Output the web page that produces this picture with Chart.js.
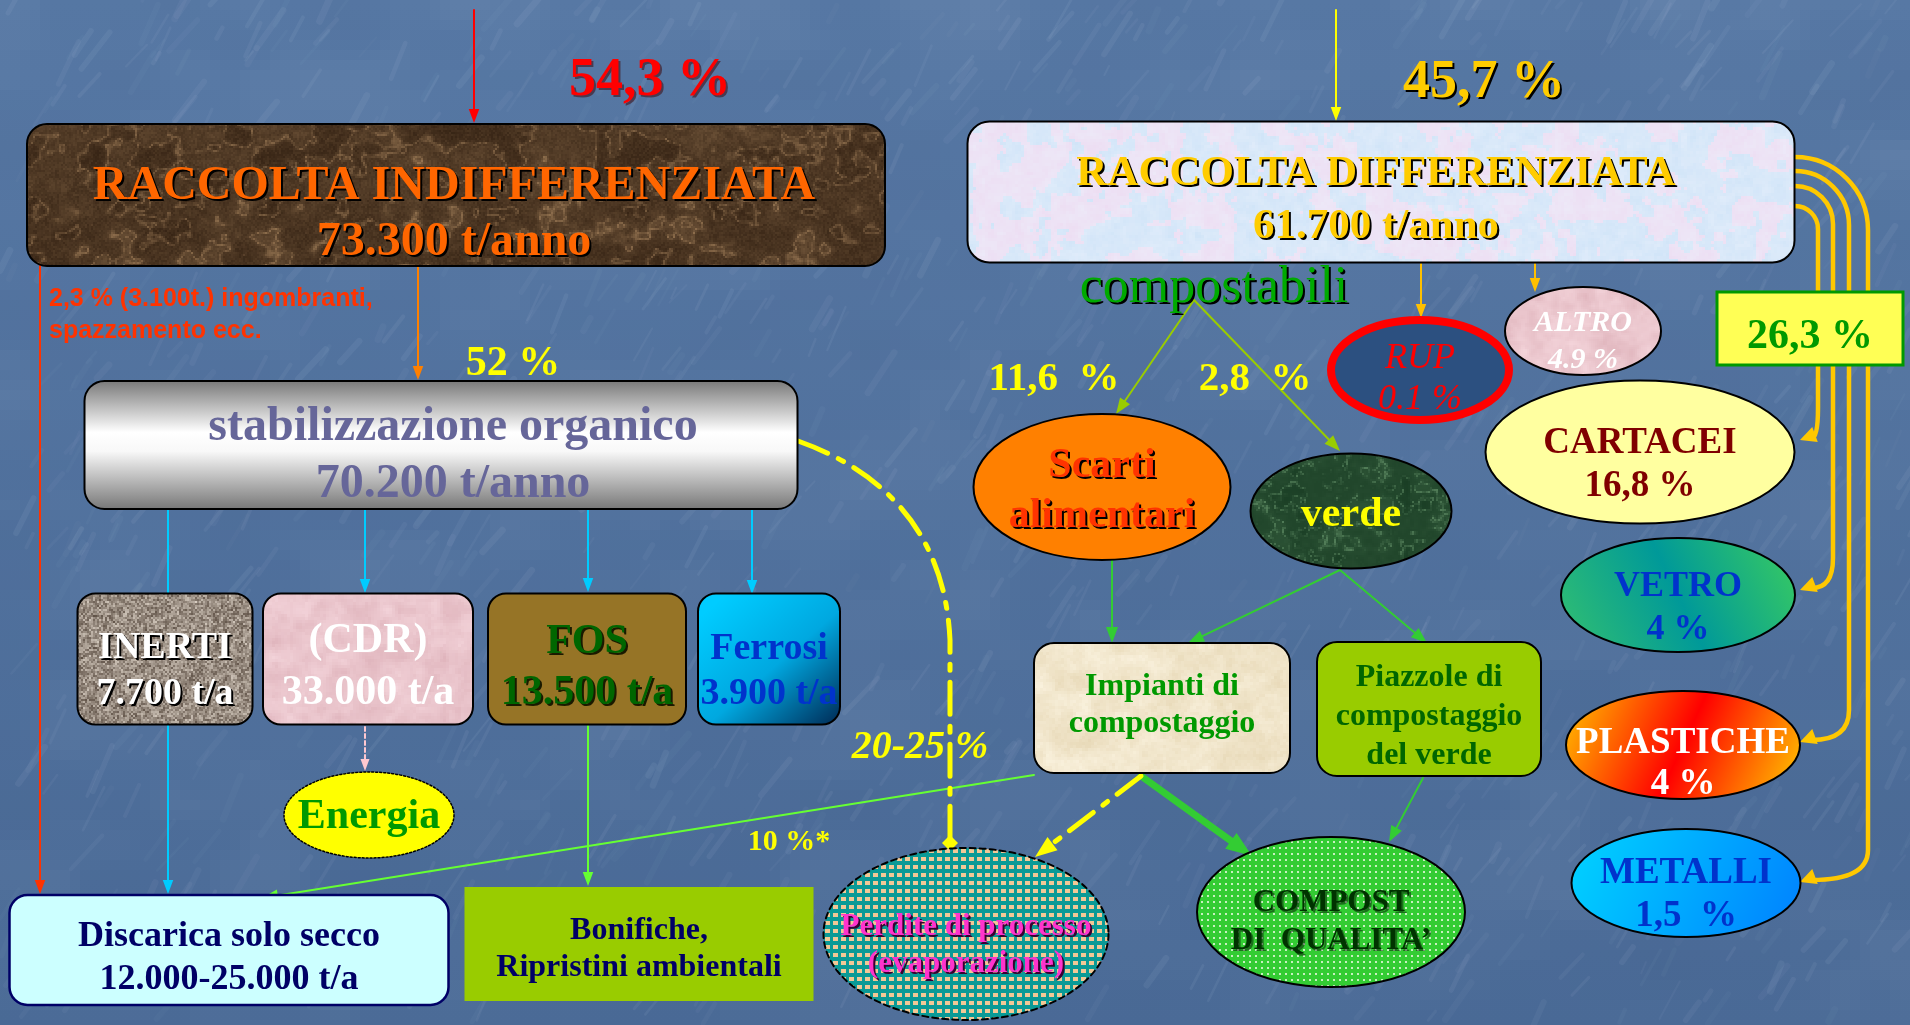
<!DOCTYPE html>
<html>
<head>
<meta charset="utf-8">
<title>Flussi raccolta rifiuti</title>
<script src="https://cdn.jsdelivr.net/npm/chart.js@4.4.0/dist/chart.umd.min.js"></script>
<style>
  html, body { margin: 0; padding: 0; background: #52739f; overflow: hidden; }
  #wrap { width: 1910px; height: 1025px; }
</style>
</head>
<body>
<div id="wrap"><canvas id="flowChart" width="1910" height="1025"></canvas></div>
<script>
// ---- dati del diagramma ----
const nodeIds = ['indiff', 'diff', 'stab', 'inerti', 'cdr', 'fos', 'ferrosi', 'energia', 'discarica',
  'bonifiche', 'perdite', 'scarti', 'verde', 'impianti', 'piazzole', 'compost', 'rup', 'altro',
  'cartacei', 'vetro', 'plastiche', 'metalli'];

const nodeNames = [
  ['RACCOLTA INDIFFERENZIATA'], ['RACCOLTA DIFFERENZIATA'], ['stabilizzazione organico'],
  ['INERTI'], ['(CDR)'], ['FOS'], ['Ferrosi'], ['Energia'], ['Discarica solo secco'],
  ['Bonifiche,', 'Ripristini ambientali'], ['Perdite di processo', '(evaporazione)'],
  ['Scarti', 'alimentari'], ['verde'], ['Impianti di', 'compostaggio'],
  ['Piazzole di', 'compostaggio', 'del verde'], ['COMPOST', 'DI  QUALITA\u2019'],
  ['RUP'], ['ALTRO'], ['CARTACEI'], ['VETRO'], ['PLASTICHE'], ['METALLI']
];

// quantità / quote mostrate sotto il nome ('' = nessuna)
const nodeAmounts = ['73.300 t/anno', '61.700 t/anno', '70.200 t/anno', '7.700 t/a', '33.000 t/a',
  '13.500 t/a', '3.900 t/a', '', '12.000-25.000 t/a', '', '', '', '', '', '', '',
  '0.1 %', '4.9 %', '16,8 %', '4 %', '4 %', '1,5  %'];

const flowShares = ['54,3 %', '45,7 %', '52 %', '11,6  %', '2,8  %', '26,3 %', '20-25 %', '10 %*'];
const groupLabel = 'compostabili';
const noteLines = ['2,3 % (3.100t.) ingombranti,', 'spazzamento ecc.'];

// ---- impaginazione (coordinate nello spazio 1910 x 1025) ----
const nodeLayout = {
  indiff:   { shape: 'rrect', x: 456, y: 195, w: 858, h: 142, r: 20, fill: { type: 'tex', kind: 'brown', cell: 2 }, stroke: '#000', lw: 2, font: 'bold 48px', color: '#ff6600', shadow: '#000', tx: 454, ty: [199, 255] },
  diff:     { shape: 'rrect', x: 1381, y: 192, w: 827, h: 141, r: 22, fill: { type: 'tex', kind: 'pastel', cell: 3 }, stroke: '#000', lw: 2, font: 'bold 43px', color: '#ffcc00', shadow: '#000', tx: 1376, ty: [185, 238] },
  stab:     { shape: 'rrect', x: 441, y: 445, w: 713, h: 128, r: 20, fill: { type: 'vgrad', stops: [[0, '#7a7a7a'], [0.4, '#ffffff'], [0.55, '#f8f8f8'], [1, '#787878']] }, stroke: '#000', lw: 2, font: 'bold 48px', color: '#666699', tx: 453, ty: [440, 497] },
  inerti:   { shape: 'rrect', x: 165, y: 659, w: 175, h: 131, r: 18, fill: { type: 'tex', kind: 'granite', cell: 2 }, stroke: '#000', lw: 2, font: 'bold 38px', color: '#ffffff', shadow: '#000', ty: [658, 704] },
  cdr:      { shape: 'rrect', x: 368, y: 659, w: 210, h: 131, r: 18, fill: { type: 'tex', kind: 'pink', cell: 3 }, stroke: '#000', lw: 2, font: 'bold 42px', color: '#ffffff', ty: [652, 704] },
  fos:      { shape: 'rrect', x: 587, y: 659, w: 198, h: 131, r: 18, fill: { type: 'solid', color: '#967426' }, stroke: '#000', lw: 2, font: 'bold 42px', color: '#006600', shadow: '#1a1a00', ty: [653, 704] },
  ferrosi:  { shape: 'rrect', x: 769, y: 659, w: 142, h: 131, r: 18, fill: { type: 'lgrad', from: [0.2, 0], to: [1, 1], stops: [[0, '#00ccff'], [0.5, '#00a8e0'], [1, '#002a55']] }, stroke: '#000', lw: 2, font: 'bold 38px', color: '#0033cc', ty: [659, 704] },
  energia:  { shape: 'ellipse', x: 369, y: 815, w: 170, h: 86, fill: { type: 'solid', color: '#ffff00' }, stroke: '#000', lw: 1.5, dash: [2, 2], font: 'bold 42px', color: '#009900', ty: [828] },
  discarica:{ shape: 'rrect', x: 229, y: 950, w: 439, h: 110, r: 18, fill: { type: 'solid', color: '#ccffff' }, stroke: '#000066', lw: 2.5, font: 'bold 36px', color: '#000066', ty: [946, 989] },
  bonifiche:{ shape: 'rect', x: 639, y: 944, w: 349, h: 114, fill: { type: 'solid', color: '#99cc00' }, font: 'bold 32px', color: '#000066', ty: [939, 976] },
  perdite:  { shape: 'ellipse', x: 966, y: 934, w: 285, h: 172, fill: { type: 'dots', bg: '#0a9a96', dot: '#f2c896', step: 8, dw: 5, dh: 4 }, stroke: '#000', lw: 2, dash: [6, 4], font: 'bold 31px', color: '#ff33cc', shadow: '#3a0030', ty: [935, 972] },
  scarti:   { shape: 'ellipse', x: 1102, y: 487, w: 257, h: 146, fill: { type: 'solid', color: '#ff8000' }, stroke: '#000', lw: 2, font: 'bold 42px', color: '#ff3300', shadow: '#000', ty: [477, 527] },
  verde:    { shape: 'ellipse', x: 1351, y: 511, w: 201, h: 115, fill: { type: 'tex', kind: 'green', cell: 2 }, stroke: '#000', lw: 2, font: 'bold 42px', color: '#ffff00', ty: [526] },
  impianti: { shape: 'rrect', x: 1162, y: 708, w: 256, h: 130, r: 20, fill: { type: 'tex', kind: 'beige', cell: 3 }, stroke: '#000', lw: 2, font: 'bold 32px', color: '#009900', ty: [695, 732] },
  piazzole: { shape: 'rrect', x: 1429, y: 709, w: 224, h: 134, r: 20, fill: { type: 'solid', color: '#99cc00' }, stroke: '#000', lw: 2, font: 'bold 32px', color: '#006600', ty: [686, 725, 764] },
  compost:  { shape: 'ellipse', x: 1331, y: 912, w: 268, h: 150, fill: { type: 'dots', bg: '#33cc33', dot: '#c8f0c0', step: 6, dw: 2, dh: 2 }, stroke: '#000', lw: 2, font: 'bold 31px', color: '#003300', shadow: 'rgba(0,0,0,0.45)', ty: [911, 949] },
  rup:      { shape: 'ellipse', x: 1420, y: 370, w: 178, h: 100, fill: { type: 'solid', color: '#2c5080' }, stroke: '#ff0000', lw: 8, font: 'italic 36px', color: '#ff0000', ty: [368, 409] },
  altro:    { shape: 'ellipse', x: 1583, y: 331, w: 156, h: 88, fill: { type: 'tex', kind: 'pink', cell: 2 }, stroke: '#000', lw: 2, font: 'italic bold 30px', color: '#ffffff', ty: [331, 368] },
  cartacei: { shape: 'ellipse', x: 1640, y: 452, w: 309, h: 143, fill: { type: 'solid', color: '#ffffa0' }, stroke: '#000', lw: 2, font: 'bold 37px', color: '#800000', ty: [453, 496] },
  vetro:    { shape: 'ellipse', x: 1678, y: 595, w: 234, h: 114, fill: { type: 'lgrad', from: [1, 0], to: [0, 1], stops: [[0, '#3acc60'], [0.5, '#009999'], [1, '#33c070']] }, stroke: '#000', lw: 2, font: 'bold 36px', color: '#0033cc', ty: [596, 639] },
  plastiche:{ shape: 'ellipse', x: 1683, y: 745, w: 234, h: 108, fill: { type: 'lgrad', from: [0, 0], to: [1, 1], stops: [[0, '#ffc400'], [0.5, '#ff0000'], [1, '#ffcc00']] }, stroke: '#000', lw: 2, font: 'bold 37px', color: '#ffffff', ty: [753, 794] },
  metalli:  { shape: 'ellipse', x: 1686, y: 883, w: 229, h: 108, fill: { type: 'lgrad', from: [0, 0], to: [1, 1], stops: [[0, '#00d4ff'], [1, '#0080ff']] }, stroke: '#000', lw: 2, font: 'bold 37px', color: '#0033cc', ty: [883, 926] }
};

const flowLayout = [
  { x: 650, y: 95, font: 'bold 54px', color: '#ff0000', shadow: 'rgba(60,0,0,0.5)' },
  { x: 1484, y: 97, font: 'bold 54px', color: '#ffcc00', shadow: '#000' },
  { x: 513, y: 375, font: 'bold 42px', color: '#ffff00' },
  { x: 1054, y: 390, font: 'bold 41px', color: '#ffff00' },
  { x: 1255, y: 390, font: 'bold 41px', color: '#ffff00' },
  { x: 1810, y: 348, font: 'bold 42px', color: '#009900', box: { x: 1717, y: 292, w: 186, h: 73, fill: '#ffff55', stroke: '#009900' } },
  { x: 920, y: 758, font: 'italic bold 40px', color: '#ffff00' },
  { x: 789, y: 850, font: 'bold 30px', color: '#ffff00' }
];

const edgeLayout = [
  { pts: [[474, 10], [474, 123]], color: '#ff0000', head: 14 },
  { pts: [[1336, 10], [1336, 121]], color: '#ffff00', head: 14 },
  { pts: [[40, 266], [40, 894]], color: '#ff3300', head: 14 },
  { pts: [[418, 267], [418, 380]], color: '#ff8000', head: 14 },
  { pts: [[168, 510], [168, 894]], color: '#00ccff', head: 14 },
  { pts: [[365, 510], [365, 593]], color: '#00ccff', head: 14 },
  { pts: [[588, 510], [588, 592]], color: '#00ccff', head: 14 },
  { pts: [[752, 510], [752, 594]], color: '#00ccff', head: 14 },
  { pts: [[365, 727], [365, 771]], color: '#ffc8d0', dash: [4, 3], head: 12 },
  { pts: [[588, 726], [588, 886]], color: '#66ff33', head: 14 },
  { pts: [[1034, 775], [262, 898]], color: '#66ff33', head: 16 },
  { pts: [[1194, 300], [1116, 414]], color: '#99cc00', head: 16 },
  { pts: [[1194, 300], [1340, 451]], color: '#99cc00', head: 16 },
  { pts: [[1112, 560], [1112, 643]], color: '#33cc33', head: 16 },
  { pts: [[1340, 570], [1188, 643]], color: '#33cc33', head: 16 },
  { pts: [[1340, 570], [1427, 643]], color: '#33cc33', head: 16 },
  { pts: [[1423, 778], [1389, 842]], color: '#33cc33', head: 16 },
  { pts: [[1141, 776], [1252, 856]], color: '#33cc33', w: 7, head: 26 },
  { pts: [[1141, 776], [1035, 857]], color: '#ffff00', w: 5, dash: [30, 12, 6, 12], head: 22 },
  { pts: [[1421, 264], [1421, 318]], color: '#ffc000', head: 14 },
  { pts: [[1535, 264], [1535, 292]], color: '#ffc000', head: 14 }
];

// linee dorate verso le frazioni secche: partenza, verticale, punta freccia
const goldRoutes = [
  { sy: 206, vx: 1818, ty: 438 },
  { sy: 186, vx: 1833, ty: 588 },
  { sy: 171, vx: 1849, ty: 740 },
  { sy: 157, vx: 1868, ty: 880 }
];

// ---- utilità grafiche ----
function hash(i, j, s) {
  let h = Math.imul(i | 0, 374761393) + Math.imul(j | 0, 668265263) + Math.imul(s | 0, 1442695041);
  h = Math.imul(h ^ (h >>> 13), 1274126177);
  h = h ^ (h >>> 16);
  return (h >>> 0) / 4294967296;
}
function vnoise(x, y, s) {
  const i = Math.floor(x), j = Math.floor(y), fx = x - i, fy = y - j;
  const sx = fx * fx * (3 - 2 * fx), sy = fy * fy * (3 - 2 * fy);
  const a = hash(i, j, s), b = hash(i + 1, j, s), c = hash(i, j + 1, s), d = hash(i + 1, j + 1, s);
  return a + (b - a) * sx + (c - a) * sy + (a - b - c + d) * sx * sy;
}
function fbm(x, y, s) {
  return 0.5 * vnoise(x, y, s) + 0.3 * vnoise(x * 2.1, y * 2.1, s + 1) + 0.2 * vnoise(x * 4.3, y * 4.3, s + 2);
}
function mix(a, b, t) {
  t = Math.max(0, Math.min(1, t));
  return 'rgb(' + Math.round(a[0] + (b[0] - a[0]) * t) + ',' + Math.round(a[1] + (b[1] - a[1]) * t) + ',' + Math.round(a[2] + (b[2] - a[2]) * t) + ')';
}

const textures = {
  brown(x, y) {
    const t = fbm(x / 30, y / 26, 3);
    const vein = Math.pow(1 - Math.abs(Math.sin(t * 8 + y / 60)), 5);
    return mix([38, 22, 10], [165, 130, 92], 0.12 + 0.4 * t * t + 0.4 * vein + 0.12 * hash(x, y, 4));
  },
  pastel(x, y) {
    const t = fbm(x / 26, y / 26, 5), u = fbm(x / 9, y / 9, 9);
    const c = t > 0.5 ? [238, 212, 238] : [196, 222, 246];
    return mix(c, [236, 242, 252], 0.25 + 0.5 * u);
  },
  granite(x, y) {
    const h = hash(x, y, 7), t = fbm(x / 5, y / 5, 11);
    return mix([80, 66, 55], [226, 216, 204], 0.55 * h + 0.45 * t);
  },
  pink(x, y) {
    return mix([222, 178, 186], [246, 216, 222], fbm(x / 16, y / 16, 13));
  },
  beige(x, y) {
    return mix([228, 212, 176], [250, 242, 222], fbm(x / 20, y / 20, 17) + 0.15 * hash(x, y, 18));
  },
  green(x, y) {
    const t = fbm(x / 18, y / 18, 19);
    const vein = Math.pow(1 - Math.abs(Math.sin(t * 10)), 5);
    return mix([10, 44, 22], [95, 140, 100], 0.15 + 0.3 * t + 0.5 * vein);
  }
};

function shapePath(ctx, n, x0, y0, w, h) {
  ctx.beginPath();
  if (n.shape === 'ellipse') {
    ctx.ellipse(x0 + w / 2, y0 + h / 2, w / 2, h / 2, 0, 0, Math.PI * 2);
  } else if (n.shape === 'rrect') {
    ctx.roundRect(x0, y0, w, h, n.r);
  } else {
    ctx.rect(x0, y0, w, h);
  }
}

function fillShape(ctx, n, x0, y0, w, h) {
  const f = n.fill;
  ctx.save();
  shapePath(ctx, n, x0, y0, w, h);
  if (f.type === 'solid') {
    ctx.fillStyle = f.color; ctx.fill();
  } else if (f.type === 'vgrad' || f.type === 'lgrad') {
    const from = f.type === 'vgrad' ? [0, 0] : f.from, to = f.type === 'vgrad' ? [0, 1] : f.to;
    const g = ctx.createLinearGradient(x0 + from[0] * w, y0 + from[1] * h, x0 + to[0] * w, y0 + to[1] * h);
    f.stops.forEach(s => g.addColorStop(s[0], s[1]));
    ctx.fillStyle = g; ctx.fill();
  } else if (f.type === 'dots') {
    const pc = document.createElement('canvas');
    pc.width = f.step; pc.height = f.step;
    const p = pc.getContext('2d');
    p.fillStyle = f.bg; p.fillRect(0, 0, f.step, f.step);
    p.fillStyle = f.dot; p.fillRect(1, 1, f.dw, f.dh);
    ctx.fillStyle = ctx.createPattern(pc, 'repeat'); ctx.fill();
  } else if (f.type === 'tex') {
    ctx.clip();
    const fn = textures[f.kind], c = f.cell;
    for (let y = Math.floor(y0); y < y0 + h; y += c) {
      for (let x = Math.floor(x0); x < x0 + w; x += c) {
        ctx.fillStyle = fn(x, y);
        ctx.fillRect(x, y, c, c);
      }
    }
  }
  ctx.restore();
}

function arrowHead(ctx, x, y, ang, len, wid) {
  const c = Math.cos(ang), s = Math.sin(ang);
  ctx.beginPath();
  ctx.moveTo(x, y);
  ctx.lineTo(x - len * c - wid / 2 * s, y - len * s + wid / 2 * c);
  ctx.lineTo(x - len * c + wid / 2 * s, y - len * s - wid / 2 * c);
  ctx.closePath();
  ctx.fill();
}

function drawText(ctx, str, x, y, font, color, shadow, align) {
  ctx.font = font + ' "Liberation Serif", "Times New Roman", serif';
  ctx.textAlign = align || 'center';
  ctx.textBaseline = 'alphabetic';
  if (shadow) { ctx.fillStyle = shadow; ctx.fillText(str, x + 2, y + 2); }
  ctx.fillStyle = color;
  ctx.fillText(str, x, y);
}

function paintBackground(ctx, W, H) {
  const g = ctx.createLinearGradient(0, 0, 0, H);
  g.addColorStop(0, '#5879a5');
  g.addColorStop(1, '#4b6b97');
  ctx.fillStyle = g;
  ctx.fillRect(0, 0, W, H);
  for (let y = 0; y < H; y += 10) {
    for (let x = 0; x < W; x += 10) {
      const t = fbm(x / 120, y / 80, 23) - 0.5;
      ctx.fillStyle = t > 0 ? 'rgba(255,255,255,' + (t * 0.16).toFixed(3) + ')' : 'rgba(20,40,80,' + (-t * 0.16).toFixed(3) + ')';
      ctx.fillRect(x, y, 10, 10);
    }
  }
  ctx.lineCap = 'round';
  for (let k = 0; k < 1400; k++) {
    const x = hash(k, 1, 31) * W, y = hash(k, 2, 31) * H;
    const len = 10 + hash(k, 3, 31) * 40;
    const ang = -1.0 + (hash(k, 4, 31) - 0.5) * 0.4;
    ctx.strokeStyle = 'rgba(230,240,255,' + (0.02 + hash(k, 5, 31) * 0.045).toFixed(3) + ')';
    ctx.lineWidth = 2 + hash(k, 6, 31) * 5;
    ctx.beginPath();
    ctx.moveTo(x, y);
    ctx.lineTo(x + Math.cos(ang) * len, y + Math.sin(ang) * len);
    ctx.stroke();
  }
}

const diagramPlugin = {
  id: 'diagram',
  beforeDraw(chart) {
    paintBackground(chart.ctx, chart.width, chart.height);
  },
  afterDatasetsDraw(chart) {
    const ctx = chart.ctx;
    const xs = chart.scales.x, ys = chart.scales.y;
    const X = v => xs.getPixelForValue(v), Y = v => ys.getPixelForValue(v);
    const meta = chart.getDatasetMeta(0);

    // frecce semplici
    edgeLayout.forEach(e => {
      const pts = e.pts.map(p => [X(p[0]), Y(p[1])]);
      const a = pts[pts.length - 2], b = pts[pts.length - 1];
      const ang = Math.atan2(b[1] - a[1], b[0] - a[0]);
      const hl = e.head || 0;
      ctx.save();
      ctx.strokeStyle = e.color; ctx.fillStyle = e.color;
      ctx.lineWidth = e.w || 2;
      ctx.setLineDash(e.dash || []);
      ctx.beginPath();
      ctx.moveTo(pts[0][0], pts[0][1]);
      for (let i = 1; i < pts.length - 1; i++) ctx.lineTo(pts[i][0], pts[i][1]);
      ctx.lineTo(b[0] - Math.cos(ang) * hl * 0.7, b[1] - Math.sin(ang) * hl * 0.7);
      ctx.stroke();
      ctx.setLineDash([]);
      if (hl) arrowHead(ctx, b[0], b[1], ang, hl, hl * 0.75);
      ctx.restore();
    });

    // curva tratto-punto verso le perdite di processo
    ctx.save();
    ctx.strokeStyle = '#ffff00'; ctx.fillStyle = '#ffff00';
    ctx.lineWidth = 5;
    ctx.setLineDash([32, 12, 6, 12]);
    ctx.beginPath();
    ctx.moveTo(X(798), Y(441));
    ctx.bezierCurveTo(X(880), Y(470), X(945), Y(530), X(950), Y(640));
    ctx.lineTo(X(950), Y(838));
    ctx.stroke();
    ctx.setLineDash([]);
    ctx.beginPath();
    ctx.moveTo(X(950), Y(835)); ctx.lineTo(X(958), Y(843)); ctx.lineTo(X(950), Y(851)); ctx.lineTo(X(942), Y(843));
    ctx.closePath(); ctx.fill();
    ctx.restore();

    // linee dorate a destra
    ctx.save();
    ctx.strokeStyle = '#ffc800'; ctx.fillStyle = '#ffc800';
    ctx.lineWidth = 4.5;
    goldRoutes.forEach(g => {
      const x0 = X(1795), vx = X(g.vx), tip = X(1800), ty = Y(g.ty), sy = Y(g.sy);
      ctx.beginPath();
      ctx.moveTo(x0, sy);
      ctx.arcTo(vx, sy, vx, sy + 200, vx - x0);
      ctx.lineTo(vx, ty - 30);
      ctx.quadraticCurveTo(vx, ty, tip + 12, ty);
      ctx.stroke();
      arrowHead(ctx, tip, ty + 2, Math.PI - 0.35, 16, 16);
    });
    ctx.restore();

    // nodi
    nodeIds.forEach((id, i) => {
      const n = nodeLayout[id];
      const cx = meta.data[i].x, cy = meta.data[i].y;
      const w = X(n.x + n.w / 2) - X(n.x - n.w / 2);
      const h = Y(n.y + n.h / 2) - Y(n.y - n.h / 2);
      const x0 = cx - w / 2, y0 = cy - h / 2;
      fillShape(ctx, n, x0, y0, w, h);
      if (n.stroke) {
        ctx.save();
        shapePath(ctx, n, x0, y0, w, h);
        ctx.strokeStyle = n.stroke; ctx.lineWidth = n.lw;
        ctx.setLineDash(n.dash || []);
        ctx.stroke();
        ctx.restore();
      }
      const lines = nodeNames[i].concat(nodeAmounts[i] ? [nodeAmounts[i]] : []);
      const tx = X(n.tx !== undefined ? n.tx : n.x);
      lines.forEach((s, k) => drawText(ctx, s, tx, Y(n.ty[k]), n.font, n.color, n.shadow));
    });

    // quote di flusso
    flowShares.forEach((s, i) => {
      const f = flowLayout[i];
      if (f.box) {
        ctx.fillStyle = f.box.fill;
        ctx.fillRect(X(f.box.x), Y(f.box.y), f.box.w, f.box.h);
        ctx.strokeStyle = f.box.stroke; ctx.lineWidth = 3;
        ctx.strokeRect(X(f.box.x), Y(f.box.y), f.box.w, f.box.h);
      }
      drawText(ctx, s, X(f.x), Y(f.y), f.font, f.color, f.shadow);
    });

    drawText(ctx, groupLabel, X(1214), Y(302), '52px', '#00aa00', '#000');

    ctx.font = 'bold 25px "Liberation Sans", Arial, sans-serif';
    ctx.textAlign = 'left';
    ctx.fillStyle = '#ff3300';
    noteLines.forEach((s, k) => ctx.fillText(s, X(49), Y(306 + k * 32)));
  }
};

function build() {
  const ctx = document.getElementById('flowChart');
  new Chart(ctx, {
    type: 'scatter',
    data: {
      datasets: [{
        label: 'nodi',
        data: nodeIds.map(id => ({ x: nodeLayout[id].x, y: nodeLayout[id].y })),
        pointRadius: 0,
        pointHoverRadius: 0
      }]
    },
    options: {
      responsive: false,
      animation: false,
      events: [],
      layout: { padding: 0 },
      plugins: { legend: { display: false }, tooltip: { enabled: false } },
      scales: {
        x: { type: 'linear', min: 0, max: 1910, display: false },
        y: { type: 'linear', min: 0, max: 1025, reverse: true, display: false }
      }
    },
    plugins: [diagramPlugin]
  });
}

Promise.all([
  document.fonts.load('bold 40px "Liberation Serif"'),
  document.fonts.load('italic 40px "Liberation Serif"'),
  document.fonts.load('italic bold 40px "Liberation Serif"'),
  document.fonts.load('40px "Liberation Serif"'),
  document.fonts.load('bold 22px "Liberation Sans"')
]).then(build, build);
</script>
</body>
</html>
